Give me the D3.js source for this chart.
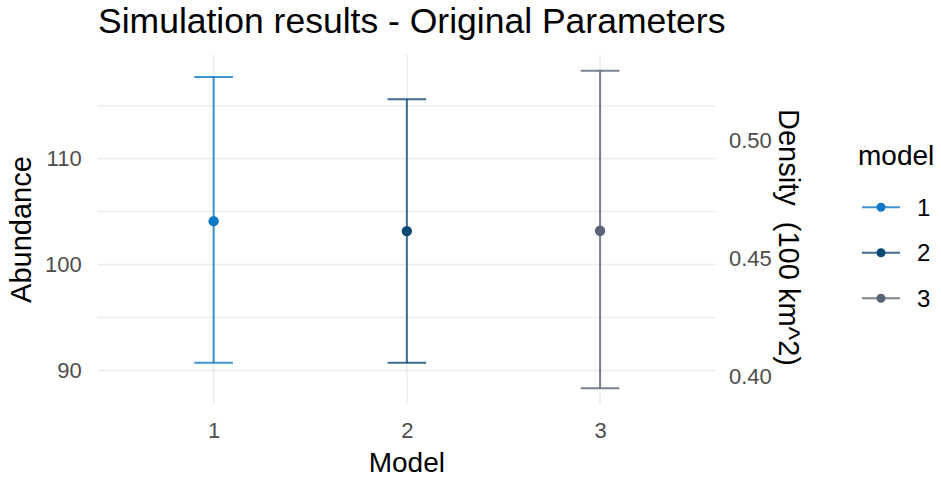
<!DOCTYPE html>
<html>
<head>
<meta charset="utf-8">
<script src="https://cdn.jsdelivr.net/npm/d3@7"></script>
<style>
  body { margin: 0; background: #fff; }
  text { font-family: "Liberation Sans", Arial, sans-serif; }
</style>
</head>
<body>
<svg id="chart" width="941" height="478"></svg>
<script>
// ---- data ----
const models = ["1", "2", "3"];
const abundanceMean = [104.1, 103.16, 103.19];
const abundanceLower = [90.74, 90.74, 88.32];
const abundanceUpper = [117.7, 115.6, 118.3];
const modelColors = ["#1079C6", "#0A4A74", "#5A6377"];
const leftTicks = [90, 100, 110];
const minorTicks = [95, 105, 115];
const rightTicks = [0.40, 0.45, 0.50];
const areaFactor = 223.5; // abundance per density unit (100 km^2)

const svg = d3.select("#chart");
const panel = { left: 97.7, right: 716, top: 54.8, bottom: 404.2 };

const yMin = d3.min(abundanceLower), yMax = d3.max(abundanceUpper);
const pad = (yMax - yMin) * 0.05;
const y = d3.scaleLinear().domain([yMin - pad, yMax + pad]).range([panel.bottom, panel.top]);
const yRight = d3.scaleLinear().domain(y.domain().map(v => v / areaFactor)).range([panel.bottom, panel.top]);
const x = d3.scalePoint().domain(models).range([panel.left, panel.right]).padding(0.6);
const color = d3.scaleOrdinal().domain(models).range(modelColors);
const capHalf = x.step() * 0.1;

// grid
const grid = svg.append("g");
grid.selectAll("line.minor").data(minorTicks).join("line")
  .attr("x1", panel.left).attr("x2", panel.right)
  .attr("y1", d => y(d)).attr("y2", d => y(d))
  .attr("stroke", "#ededed").attr("stroke-width", 1.5);
grid.selectAll("line.major").data(leftTicks).join("line")
  .attr("x1", panel.left).attr("x2", panel.right)
  .attr("y1", d => y(d)).attr("y2", d => y(d))
  .attr("stroke", "#ebebeb").attr("stroke-width", 1.5);
grid.selectAll("line.vmajor").data(models).join("line")
  .attr("x1", d => x(d)).attr("x2", d => x(d))
  .attr("y1", panel.top).attr("y2", panel.bottom)
  .attr("stroke", "#ebebeb").attr("stroke-width", 1.5);

// axes (text only)
const tickFont = 22;
const yAxisL = svg.append("g").attr("transform", `translate(${panel.left},0)`)
  .call(d3.axisLeft(y).tickValues(leftTicks).tickSize(0).tickPadding(16));
const yAxisR = svg.append("g").attr("transform", `translate(${panel.right},0)`)
  .call(d3.axisRight(yRight).tickValues(rightTicks).tickSize(0).tickPadding(13).tickFormat(d3.format(".2f")));
const xAxis = svg.append("g").attr("transform", `translate(0,${panel.bottom})`)
  .call(d3.axisBottom(x).tickSize(0).tickPadding(18));
[yAxisL, yAxisR, xAxis].forEach(g => {
  g.select(".domain").remove();
  g.selectAll("text").attr("font-size", tickFont).attr("fill", "#4d4d4d")
    .attr("font-family", "'Liberation Sans', Arial, sans-serif");
});

// error bars
const eb = svg.append("g");
models.forEach((m, i) => {
  const g = eb.append("g").attr("stroke", color(m)).attr("stroke-width", 2).attr("stroke-opacity", 0.8);
  g.append("line").attr("x1", x(m)).attr("x2", x(m))
    .attr("y1", y(abundanceLower[i])).attr("y2", y(abundanceUpper[i]));
  g.append("line").attr("x1", x(m) - capHalf).attr("x2", x(m) + capHalf)
    .attr("y1", y(abundanceUpper[i])).attr("y2", y(abundanceUpper[i]));
  g.append("line").attr("x1", x(m) - capHalf).attr("x2", x(m) + capHalf)
    .attr("y1", y(abundanceLower[i])).attr("y2", y(abundanceLower[i]));
});
svg.append("g").selectAll("circle").data(models).join("circle")
  .attr("cx", d => x(d)).attr("cy", (d, i) => y(abundanceMean[i]))
  .attr("r", 5.2).attr("fill", d => color(d));

// titles
svg.append("text").attr("x", 98).attr("y", 33).attr("font-size", 35.5)
  .attr("fill", "#000").text("Simulation results - Original Parameters");
svg.append("text").attr("x", (panel.left + panel.right) / 2).attr("y", 472)
  .attr("text-anchor", "middle").attr("font-size", 28).attr("fill", "#000").text("Model");
const midY = (panel.top + panel.bottom) / 2;
svg.append("text").attr("transform", `translate(31,${midY}) rotate(-90)`)
  .attr("text-anchor", "middle").attr("font-size", 29).attr("fill", "#000").text("Abundance");
svg.append("text").attr("transform", `translate(779,${midY + 8}) rotate(90)`)
  .attr("text-anchor", "middle").attr("font-size", 29).attr("fill", "#000")
  .attr("xml:space", "preserve").style("white-space", "pre").text("Density  (100 km^2)");

// legend
const leg = svg.append("g");
leg.append("text").attr("x", 858).attr("y", 165).attr("font-size", 28).attr("fill", "#000").text("model");
const legY = d3.scalePoint().domain(models).range([207.3, 298.3]);
models.forEach(m => {
  const g = leg.append("g");
  g.append("line").attr("x1", 862).attr("x2", 900).attr("y1", legY(m)).attr("y2", legY(m))
    .attr("stroke", color(m)).attr("stroke-width", 2).attr("stroke-opacity", 0.8);
  g.append("circle").attr("cx", 881).attr("cy", legY(m)).attr("r", 4.5).attr("fill", color(m));
  g.append("text").attr("x", 917).attr("y", legY(m)).attr("dy", "0.36em")
    .attr("font-size", 24).attr("fill", "#000").text(m);
});
</script>
</body>
</html>
